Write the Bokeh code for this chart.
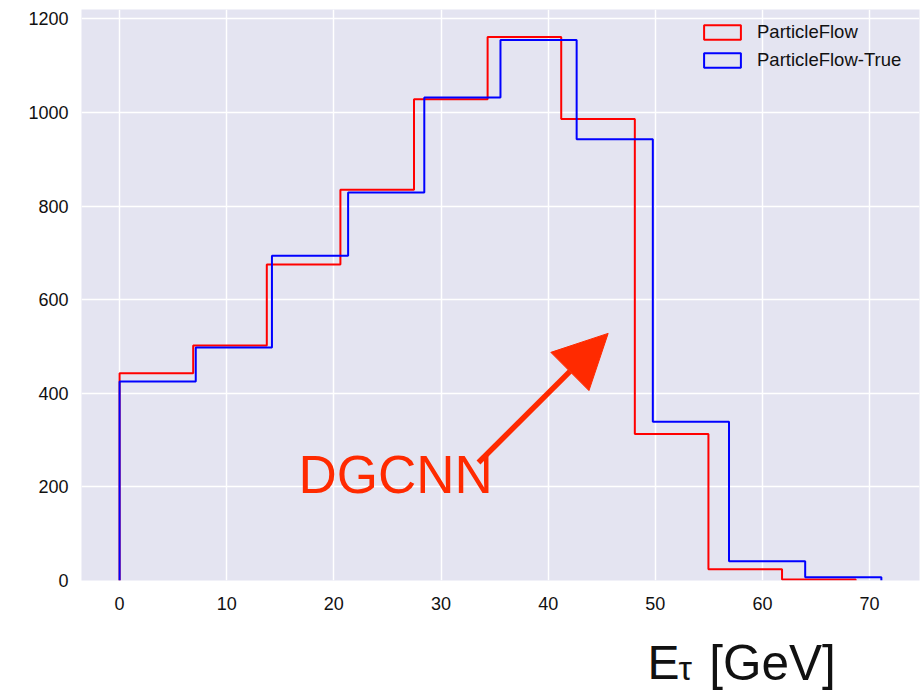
import numpy as np
from bokeh.plotting import figure
from bokeh.models import Label, Arrow, NormalHead, FixedTicker, Range1d, Legend, LegendItem
from bokeh.layouts import column
from bokeh.embed import file_html
from bokeh.resources import INLINE

# ---- data ----
red_edges = [0.0, 6.87, 13.74, 20.61, 27.48, 34.35, 41.22, 48.09, 54.96, 61.83, 68.7]
red_counts = [443, 502, 675, 835, 1028, 1161, 986, 313, 24, 2]
blue_edges = [0.0, 7.11, 14.22, 21.33, 28.44, 35.55, 42.66, 49.77, 56.88, 63.99, 71.1]
blue_counts = [425, 498, 694, 829, 1032, 1155, 943, 339, 41, 7]
x_ticks = [0, 10, 20, 30, 40, 50, 60, 70]
y_ticks = [0, 200, 400, 600, 800, 1000, 1200]
series_names = ["ParticleFlow", "ParticleFlow-True"]
annotation_text = "DGCNN"
arrow_start = (33.5, 252)
arrow_end = (45.6, 528)

FONT = "Liberation Sans"
BG = "#E4E4F1"
RED = "#FF0000"
BLUE = "#0000FF"
ANN = "#FF2A00"
TXT = "#111111"

p = figure(width=921, height=620, frame_width=838, frame_height=571,
           x_range=Range1d(-3.555, 74.66), y_range=Range1d(0, 1220),
           output_backend="svg", toolbar_location=None,
           min_border_left=81, min_border_right=2, min_border_top=9, min_border_bottom=40)
p.background_fill_color = BG
p.border_fill_color = "white"
p.outline_line_color = None

for ax in (p.xaxis[0], p.yaxis[0]):
    ax.axis_line_color = None
    ax.major_tick_line_color = None
    ax.minor_tick_line_color = None
    ax.major_label_text_font = FONT
    ax.major_label_text_font_size = "18px"
    ax.major_label_text_color = TXT
p.xaxis[0].ticker = FixedTicker(ticks=x_ticks)
p.yaxis[0].ticker = FixedTicker(ticks=y_ticks)
p.xaxis[0].major_label_standoff = 10
p.yaxis[0].major_label_standoff = 7

p.xgrid[0].ticker = FixedTicker(ticks=x_ticks)
p.ygrid[0].ticker = FixedTicker(ticks=y_ticks)
for g in (p.xgrid[0], p.ygrid[0]):
    g.grid_line_color = "white"
    g.grid_line_width = 1.5


def step_outline(edges, counts):
    e = np.asarray(edges, dtype=float)
    c = np.asarray(counts, dtype=float)
    xs = np.repeat(e, 2)
    ys = np.concatenate([[0.0], np.repeat(c, 2), [0.0]])
    return xs, ys


rx, ry = step_outline(red_edges, red_counts)
bx, by = step_outline(blue_edges, blue_counts)
p.line(rx, ry, line_color=RED, line_width=2)
p.line(bx, by, line_color=BLUE, line_width=2)

# legend-only rectangles (not drawn in the plot: NaN geometry)
nan = [float("nan")]
lr = p.quad(left=nan, right=nan, top=nan, bottom=nan, fill_alpha=0, line_color=RED, line_width=2)
lb = p.quad(left=nan, right=nan, top=nan, bottom=nan, fill_alpha=0, line_color=BLUE, line_width=2)
legend = Legend(items=[LegendItem(label=series_names[0], renderers=[lr]),
                       LegendItem(label=series_names[1], renderers=[lb])],
                location=(618, 509))
legend.background_fill_alpha = 0
legend.border_line_color = None
legend.label_text_font = FONT
legend.label_text_font_size = "18.5px"
legend.label_text_color = TXT
legend.glyph_width = 46
legend.glyph_height = 18
legend.label_standoff = 12
legend.label_height = 21
legend.spacing = 6
legend.margin = 0
legend.padding = 10
p.add_layout(legend, "center")

# hand-drawn style annotation
p.add_layout(Arrow(end=NormalHead(size=54, fill_color=ANN, line_color=ANN, line_width=1),
                   x_start=arrow_start[0], y_start=arrow_start[1],
                   x_end=arrow_end[0], y_end=arrow_end[1],
                   line_color=ANN, line_width=5.5))
p.add_layout(Label(x=16.7, y=227, text=annotation_text, text_font=FONT,
                   text_font_size="53px", text_color=ANN, text_baseline="alphabetic"))

# strip below the chart holding the x-axis title "E_tau [GeV]"
p2 = figure(width=921, height=70, x_range=Range1d(0, 921), y_range=Range1d(70, 0),
            output_backend="svg", toolbar_location=None,
            x_axis_location=None, y_axis_location=None, min_border=0)
p2.grid.visible = False
p2.outline_line_color = None
p2.background_fill_color = "white"
p2.border_fill_color = "white"
p2.add_layout(Label(x=622, y=42, text="E", text_font=FONT, text_font_size="48px",
                    text_color=TXT, text_baseline="alphabetic"))
p2.add_layout(Label(x=656, y=47, text="τ", text_font=FONT, text_font_size="34px",
                    text_color=TXT, text_baseline="alphabetic"))
p2.add_layout(Label(x=690, y=42, text="[GeV]", text_font=FONT, text_font_size="49.5px",
                    text_color=TXT, text_baseline="alphabetic"))

layout = column(p, p2, spacing=0)
open("out.html", "w").write(file_html(layout, INLINE))
